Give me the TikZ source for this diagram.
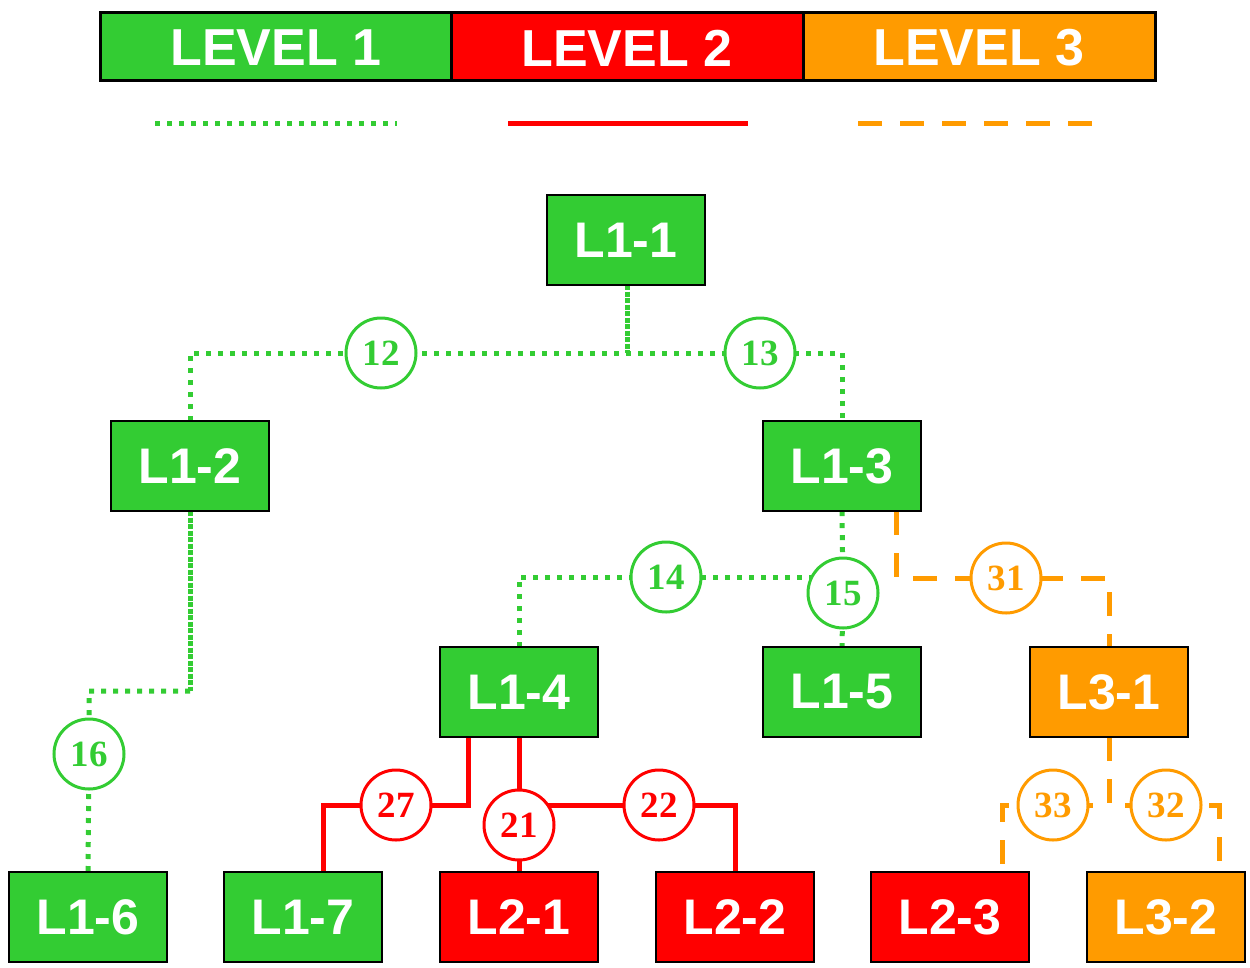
\documentclass[tikz,border=0pt]{standalone}
\usepackage{fontspec}
\setmainfont{Liberation Serif}
\setsansfont{Liberation Sans}
\definecolor{lgreen}{RGB}{51,204,51}
\definecolor{lred}{RGB}{255,0,0}
\definecolor{lorange}{RGB}{255,155,0}
\begin{document}
\begin{tikzpicture}[x=1pt,y=-1pt,
  box/.style={draw=black,line width=1.2pt,minimum width=157pt,minimum height=89pt,inner sep=0pt,
    text=white,font=\sffamily\bfseries\fontsize{50}{60}\selectfont},
  legend/.style={draw=black,line width=3pt,minimum width=352pt,minimum height=68pt,inner sep=0pt},
  legtext/.style={text=white,inner sep=0pt,font=\sffamily\bfseries\fontsize{52}{62}\selectfont},
  num/.style={circle,fill=white,line width=3pt,minimum size=70pt,inner sep=0pt,
    font=\rmfamily\bfseries\fontsize{37}{40}\selectfont},
  lvone/.style={draw=lgreen,line width=5pt,dash pattern=on 5pt off 7pt},
  lvonedense/.style={draw=lgreen,line width=5pt,dash pattern=on 5pt off 1.5pt},
  lvtwo/.style={draw=lred,line width=5pt},
  lvthree/.style={draw=lorange,line width=5pt,dash pattern=on 24pt off 18pt},
]
\useasboundingbox (0,0) rectangle (1250,967);

% legend
\node[legend,fill=lgreen] (leg1) at (276,46) {};
\node[legend,fill=lred] (leg2) at (627,46) {};
\node[legend,fill=lorange] (leg3) at (979,46) {};
\node[legtext] at ([yshift=-2pt]leg1.center) {LEVEL 1};
\node[legtext] at ([yshift=-2pt]leg2.center) {LEVEL 2};
\node[legtext] at ([yshift=-2pt]leg3.center) {LEVEL 3};
\draw[lvone] (155,123) -- (397,123);
\draw[lvtwo] (508,123) -- (748,123);
\draw[lvthree] (858,123) -- (1092,123);

% boxes
\node[box,fill=lgreen] (L11) at (626,240) {L1-1};
\node[box,fill=lgreen] (L12) at (190,466) {L1-2};
\node[box,fill=lgreen] (L13) at (842,466) {L1-3};
\node[box,fill=lgreen] (L14) at (519,692) {L1-4};
\node[box,fill=lgreen] (L15) at (842,692) {L1-5};
\node[box,fill=lorange] (L31) at (1109,692) {L3-1};
\node[box,fill=lgreen] (L16) at (88,917) {L1-6};
\node[box,fill=lgreen] (L17) at (303,917) {L1-7};
\node[box,fill=lred] (L21) at (519,917) {L2-1};
\node[box,fill=lred] (L22) at (735,917) {L2-2};
\node[box,fill=lred] (L23) at (950,917) {L2-3};
\node[box,fill=lorange] (L32) at (1166,917) {L3-2};

% circle positions
\coordinate (p12) at (381,353);
\coordinate (p13) at (760,353);
\coordinate (p14) at (666,577);
\coordinate (p15) at (843,593);
\coordinate (p31) at (1006,578);
\coordinate (p16) at (89,754);
\coordinate (p27) at (396,805);
\coordinate (p21) at (519,825);
\coordinate (p22) at (659,805);
\coordinate (p33) at (1053,805);
\coordinate (p32) at (1166,805);
\coordinate (bend16) at (89,691);

% connectors (behind the circles and boxes)
\draw[lvonedense] ([xshift=1pt]L11.south) -- ([xshift=1pt]L11.south |- p12);
\draw[lvone] (L12.north) |- (p12) -- (p13) -| (L13.north);
\draw[lvone] (L13.south) -- (p15) -- (L15.north);
\draw[lvone] (L14.north) |- (p14) -- (p14 -| p15);
\draw[lvonedense] (L12.south) -- (L12.south |- bend16);
\draw[lvone] (L12.south |- bend16) -- (bend16) -- (p16) -- (L16.north);

\draw[lvtwo] ([xshift=-51pt]L14.south) |- (p27) -| ([xshift=20pt]L17.north);
\draw[lvtwo] (L14.south) -- (p21) -- (L21.north);
\draw[lvtwo] (p21 |- p22) -- (p22) -| (L22.north);

\draw[lvthree] ([xshift=54pt]L13.south) |- (p31) -| (L31.north);
\draw[lvthree] (L31.south) |- (p33) -| ([xshift=52pt]L23.north);
\draw[lvthree] (L31.south) |- (p32) -| ([xshift=53pt]L32.north);

% box outlines over the line ends
\foreach \n in {L11,L12,L13,L14,L15,L31,L16,L17,L21,L22,L23,L32}{
  \draw[black,line width=1.2pt] (\n.north west) rectangle (\n.south east);
}

% numbered circles
\node[num,draw=lgreen,text=lgreen] (c12) at (p12) {12};
\node[num,draw=lgreen,text=lgreen] (c13) at (p13) {13};
\node[num,draw=lgreen,text=lgreen] (c14) at (p14) {14};
\node[num,draw=lgreen,text=lgreen] (c15) at (p15) {15};
\node[num,draw=lgreen,text=lgreen] (c16) at (p16) {16};
\node[num,draw=lred,text=lred] (c27) at (p27) {27};
\node[num,draw=lred,text=lred] (c21) at (p21) {21};
\node[num,draw=lred,text=lred] (c22) at (p22) {22};
\node[num,draw=lorange,text=lorange] (c31) at (p31) {31};
\node[num,draw=lorange,text=lorange] (c33) at (p33) {33};
\node[num,draw=lorange,text=lorange] (c32) at (p32) {32};
\end{tikzpicture}
\end{document}
